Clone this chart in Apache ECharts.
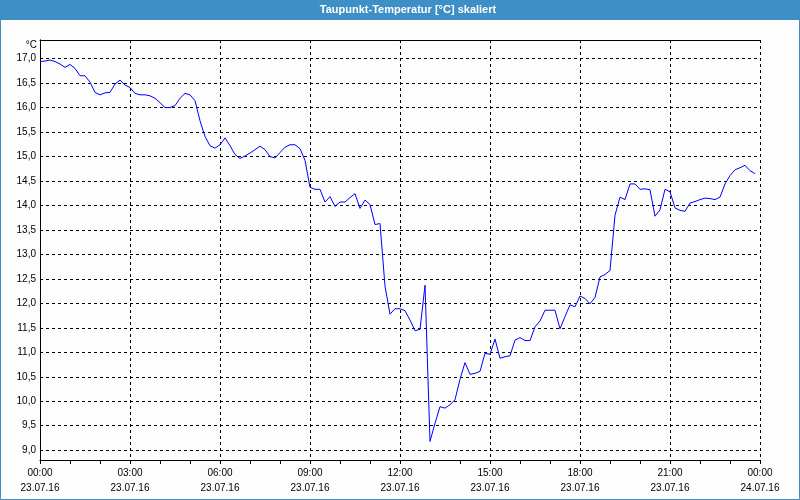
<!DOCTYPE html>
<html>
<head>
<meta charset="utf-8">
<script src="https://cdn.jsdelivr.net/npm/echarts@6/dist/echarts.min.js"></script>
<style>
html,body{margin:0;padding:0;background:#fcfdfc;}
#chart{width:800px;height:500px;}
</style>
</head>
<body>
<div id="chart"></div>
<script>
// ---- data ----
const chartTitle = 'Taupunkt-Temperatur [°C] skaliert';
const unitLabel = '°C';
const timesMin = [
  0,10,20,30,40,50,60,70,80,90,100,110,
  120,130,140,150,160,170,180,190,200,210,220,230,
  240,250,260,270,280,290,300,310,320,330,340,350,
  360,370,380,390,400,410,420,430,440,450,460,470,
  480,490,500,510,520,530,540,550,560,570,580,590,
  600,610,620,630,640,650,660,670,680,690,700,710,
  720,730,740,750,760,770,780,790,800,810,820,830,
  840,850,860,870,880,890,900,910,920,930,940,950,
  960,970,980,990,1000,1010,1020,1030,1040,1050,1060,1070,
  1080,1090,1100,1110,1120,1130,1140,1150,1160,1170,1180,1190,
  1200,1210,1220,1230,1240,1250,1260,1270,1280,1290,1300,1310,
  1320,1330,1340,1350,1360,1370,1380,1390,1400,1410,1420,1430
];
const dewPoint = [
  16.94,16.95,16.97,16.94,16.89,16.82,16.88,16.80,16.65,16.65,16.52,16.31,
  16.26,16.30,16.31,16.48,16.56,16.46,16.41,16.29,16.26,16.26,16.24,16.19,
  16.10,16.00,16.00,16.04,16.19,16.29,16.26,16.14,15.73,15.41,15.22,15.17,
  15.24,15.38,15.22,15.04,14.96,15.01,15.07,15.14,15.21,15.14,15.00,14.97,
  15.08,15.19,15.24,15.24,15.16,14.92,14.37,14.33,14.33,14.07,14.18,13.98,
  14.07,14.07,14.16,14.24,13.94,14.11,14.02,13.61,13.63,12.35,11.78,11.89,
  11.89,11.85,11.66,11.44,11.47,12.37,9.18,9.55,9.89,9.86,9.93,10.03,
  10.45,10.79,10.55,10.57,10.61,10.98,10.96,11.27,10.88,10.91,10.93,11.25,
  11.30,11.24,11.24,11.52,11.64,11.86,11.86,11.86,11.48,11.73,11.97,11.93,
  12.15,12.10,11.99,12.12,12.54,12.59,12.67,13.80,14.17,14.12,14.44,14.44,
  14.33,14.34,14.32,13.78,13.91,14.33,14.28,13.95,13.90,13.88,14.05,14.08,
  14.12,14.15,14.14,14.12,14.17,14.44,14.61,14.73,14.77,14.82,14.71,14.65
];
const xTickLabels = [
  '00:00\n23.07.16','03:00\n23.07.16','06:00\n23.07.16','09:00\n23.07.16',
  '12:00\n23.07.16','15:00\n23.07.16','18:00\n23.07.16','21:00\n23.07.16',
  '00:00\n24.07.16'
];
const yTickValues = [9.0,9.5,10.0,10.5,11.0,11.5,12.0,12.5,13.0,13.5,14.0,14.5,15.0,15.5,16.0,16.5,17.0];

// ---- chart ----
const seriesData = timesMin.map((t, i) => [t, dewPoint[i]]);
const FONT = '"Liberation Sans", Arial, sans-serif';
const chart = echarts.init(document.getElementById('chart'), null, {renderer: 'canvas'});
const dashed = {color: '#000', width: 1, type: [3, 3]};

chart.setOption({
  animation: false,
  backgroundColor: '#fcfdfc',
  grid: {left: 40, right: 40, top: 40, bottom: 40, outerBoundsMode: 'none', containLabel: false},
  graphic: [
    {type: 'rect', shape: {x: 0, y: 0, width: 800, height: 20}, style: {fill: '#3d8fc6'}, silent: true},
    {type: 'rect', shape: {x: 0.5, y: 0.5, width: 799, height: 499}, style: {fill: null, stroke: '#3d8fc6', lineWidth: 1}, silent: true},
    {type: 'text', x: 408, y: 10, style: {text: chartTitle, fill: '#fff', font: 'bold 11px ' + FONT, align: 'center', verticalAlign: 'middle'}, silent: true},
    {type: 'text', x: 37, y: 45, style: {text: unitLabel, fill: '#000', font: '10px ' + FONT, align: 'right', verticalAlign: 'middle'}, silent: true}
  ],
  xAxis: [{
    type: 'value', min: 0, max: 1440, interval: 180,
    axisLine: {show: true, lineStyle: {color: '#000', width: 1}},
    axisTick: {show: true, length: 4, lineStyle: {color: '#000'}},
    minorTick: {show: true, splitNumber: 3, length: 4, lineStyle: {color: '#000'}},
    axisLabel: {
      color: '#000', fontFamily: FONT, fontSize: 10, lineHeight: 15, margin: 6,
      showMinLabel: true, showMaxLabel: true, hideOverlap: false,
      formatter: v => xTickLabels[Math.round(v / 180)] || ''
    },
    splitLine: {show: true, lineStyle: dashed}
  }, {
    type: 'value', position: 'top', min: 0, max: 1440,
    axisLine: {show: true, lineStyle: {color: '#000', width: 1}},
    axisTick: {show: false}, axisLabel: {show: false}, splitLine: {show: false}
  }],
  yAxis: [{
    type: 'value', min: 8.8, max: 17.38,
    axisLine: {show: true, lineStyle: {color: '#000', width: 1}},
    axisTick: {show: false, customValues: yTickValues},
    axisLabel: {
      color: '#000', fontFamily: FONT, fontSize: 10, margin: 4,
      customValues: yTickValues,
      formatter: v => v.toFixed(1).replace('.', ',')
    },
    splitLine: {show: true, lineStyle: dashed}
  }, {
    type: 'value', position: 'right', min: 8.8, max: 17.38,
    axisLine: {show: true, lineStyle: {color: '#000', width: 1}},
    axisTick: {show: false}, axisLabel: {show: false}, splitLine: {show: false}
  }],
  series: [{
    type: 'line', xAxisIndex: 0, yAxisIndex: 0,
    data: seriesData, showSymbol: false, symbol: 'none',
    lineStyle: {color: '#0000ff', width: 1}
  }]
});
</script>
</body>
</html>
